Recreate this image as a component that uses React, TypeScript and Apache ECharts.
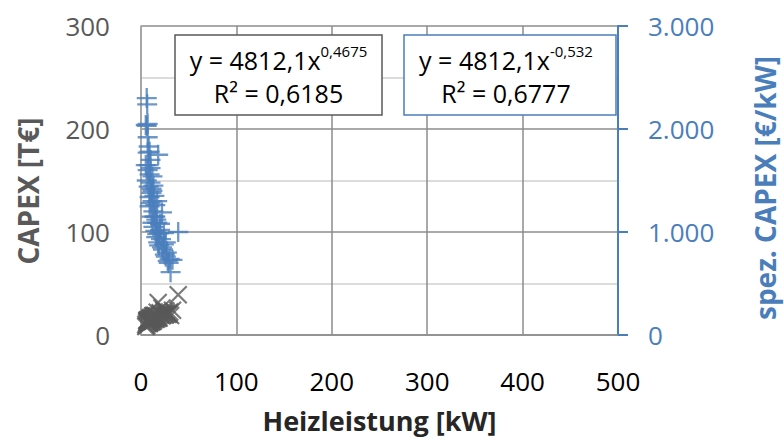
import React, { useEffect, useRef } from "react";
import * as echarts from "echarts";

// Heizleistung [kW]
const heizleistung = [6, 6.5, 5, 6, 7, 8, 9, 18, 7, 9, 12, 10, 13, 8, 11, 14, 9, 12, 10, 15, 13, 22, 12, 17, 20, 39, 15, 19, 16, 21, 18, 24, 23, 27, 26, 30, 33, 29, 31, 5, 6,
  7, 8, 10, 11, 12, 9, 14, 16, 11, 13, 17, 19, 22, 25, 28, 20, 7, 15, 24, 17, 10, 26];
// spez. CAPEX [€/kW]
const spezCapex = [2300, 2240, 2040, 2030, 1920, 1830, 1780, 1750, 1770, 1560, 1540, 1480, 1450, 1440, 1380, 1350, 1340, 1300, 1280, 1260, 1200, 1190, 1090, 1090, 1080, 1000, 1010, 990, 950, 930, 900, 880, 830, 800, 760, 740, 730, 700, 610, 1650, 1500,
  2050, 1650, 1620, 1420, 1400, 1250, 1150, 1120, 1150, 1050, 980, 870, 850, 780, 720, 1020, 1600, 1150, 990, 1300, 1700, 900];
// CAPEX [T€]
const capex = [13.8, 14.6, 10.2, 12.2, 13.4, 14.6, 16.0, 31.5, 12.4, 14.0, 18.5, 14.8, 18.9, 11.5, 15.2, 18.9, 12.1, 15.6, 12.8, 18.9, 15.6, 26.2, 13.1, 18.5, 21.6, 39.0, 15.2, 18.8, 15.2, 19.5, 16.2, 21.1, 19.1, 21.6, 19.8, 22.2, 24.1, 20.3, 18.9, 8.3, 9.0,
  14.4, 13.2, 16.2, 15.6, 16.8, 11.3, 16.1, 17.9, 12.7, 13.7, 16.7, 16.5, 18.7, 19.5, 20.2, 20.4, 11.2, 17.3, 23.8, 22.1, 17.0, 23.4];

const xTicks = [0, 100, 200, 300, 400, 500];
const leftTicks = [0, 100, 200, 300];
const rightTicks = [0, 1000, 2000, 3000];

const capexFit = { a: "4812,1", b: "0,4675", r2: "0,6185" };
const spezFit = { a: "4812,1", b: "-0,532", r2: "0,6777" };

const FONT = "'Open Sans', sans-serif";
const BLUE = "#4a7ebb";
const GRAY = "#595959";

export default function App() {
  const ref = useRef<HTMLDivElement>(null);
  useEffect(() => {
    if (!ref.current) return;
    const chart = echarts.init(ref.current, null, { renderer: "svg" });
    const fmtDot = (v: number) => String(v).replace(/\B(?=(\d{3})+(?!\d))/g, ".");
    const boxText = (fit: { a: string; b: string; r2: string }) =>
      `{m|y = ${fit.a}x}{s|${fit.b}}\n{m|R² = ${fit.r2}}`;
    const rich = {
      m: { fontFamily: FONT, fontSize: 25, color: "#000", lineHeight: 33 },
      s: { fontFamily: FONT, fontSize: 15, color: "#000", lineHeight: 18, verticalAlign: "top" },
    };
    chart.setOption({
      animation: false,
      backgroundColor: "#fff",
      grid: { left: 141, right: 166, top: 26, bottom: 103 },
      xAxis: {
        type: "value",
        min: xTicks[0],
        max: xTicks[xTicks.length - 1],
        interval: 100,
        axisLine: { show: true, lineStyle: { color: "#8c8c8c", width: 1.5 } },
        axisTick: { show: false },
        axisLabel: { color: "#000", fontFamily: FONT, fontSize: 26, margin: 33 },
        splitLine: { show: true, lineStyle: { color: "#8c8c8c", width: 1.5 } },
      },
      yAxis: [
        {
          type: "value",
          min: leftTicks[0],
          max: leftTicks[leftTicks.length - 1],
          interval: 100,
          position: "left",
          axisLine: { show: true, onZero: false, lineStyle: { color: "#a6a6a6", width: 1.5 } },
          axisTick: { show: false },
          axisLabel: { color: GRAY, fontFamily: FONT, fontSize: 26, margin: 31 },
          splitLine: { show: true, lineStyle: { color: "#8c8c8c", width: 1.5 } },
          minorTick: { show: false, splitNumber: 2 },
          minorSplitLine: { show: true, lineStyle: { color: "#d0d0d0", width: 1.5 } },
        },
        {
          type: "value",
          min: rightTicks[0],
          max: rightTicks[rightTicks.length - 1],
          interval: 1000,
          position: "right",
          axisLine: { show: true, onZero: false, lineStyle: { color: BLUE, width: 2 } },
          axisTick: { show: true, inside: false, length: 10, lineStyle: { color: BLUE, width: 2 } },
          axisLabel: { color: BLUE, fontFamily: FONT, fontSize: 26, margin: 30, formatter: (v: number) => fmtDot(v) },
          splitLine: { show: false },
        },
      ],
      series: [
        {
          type: "scatter",
          yAxisIndex: 1,
          symbol: "path://M10,0L10,20M0,10L20,10",
          symbolSize: 20,
          itemStyle: { color: "rgba(0,0,0,0)", borderColor: BLUE, borderWidth: 2.3 },
          data: heizleistung.map((x, i) => [x, spezCapex[i]]),
          z: 3,
        },
        {
          type: "scatter",
          yAxisIndex: 0,
          symbol: "path://M0,0L20,20M20,0L0,20",
          symbolSize: 17,
          itemStyle: { color: "rgba(0,0,0,0)", borderColor: GRAY, borderWidth: 2.2 },
          data: heizleistung.map((x, i) => [x, capex[i]]),
          z: 4,
        },
      ],
      graphic: [
        {
          type: "rect",
          z: 100,
          shape: { x: 175, y: 35, width: 207, height: 80 },
          style: { fill: "#fff", stroke: GRAY, lineWidth: 1.5 },
        },
        {
          type: "text",
          z: 101,
          x: 278.5,
          y: 76,
          style: { text: boxText(capexFit), rich, align: "center", verticalAlign: "middle", textAlign: "center", textVerticalAlign: "middle" },
        },
        {
          type: "rect",
          z: 100,
          shape: { x: 404, y: 35, width: 212, height: 80 },
          style: { fill: "#fff", stroke: BLUE, lineWidth: 1.5 },
        },
        {
          type: "text",
          z: 101,
          x: 506,
          y: 76,
          style: { text: boxText(spezFit), rich, align: "center", verticalAlign: "middle", textAlign: "center", textVerticalAlign: "middle" },
        },
        {
          type: "text",
          z: 101,
          x: 28,
          y: 191,
          rotation: Math.PI / 2,
          style: { text: "CAPEX [T€]", fill: GRAY, font: `bold 28px ${FONT}`, align: "center", verticalAlign: "middle", textAlign: "center", textVerticalAlign: "middle" },
        },
        {
          type: "text",
          z: 101,
          x: 765,
          y: 188,
          rotation: Math.PI / 2,
          style: { text: "spez. CAPEX [€/kW]", fill: BLUE, font: `bold 28px ${FONT}`, align: "center", verticalAlign: "middle", textAlign: "center", textVerticalAlign: "middle" },
        },
        {
          type: "text",
          z: 101,
          x: 379.5,
          y: 420,
          style: { text: "Heizleistung [kW]", fill: "#262626", font: `bold 27px ${FONT}`, align: "center", verticalAlign: "middle", textAlign: "center", textVerticalAlign: "middle" },
        },
      ],
    });
    return () => chart.dispose();
  }, []);
  return <div ref={ref} style={{ position: "fixed", left: 0, top: 0, width: 784, height: 438 }} />;
}
